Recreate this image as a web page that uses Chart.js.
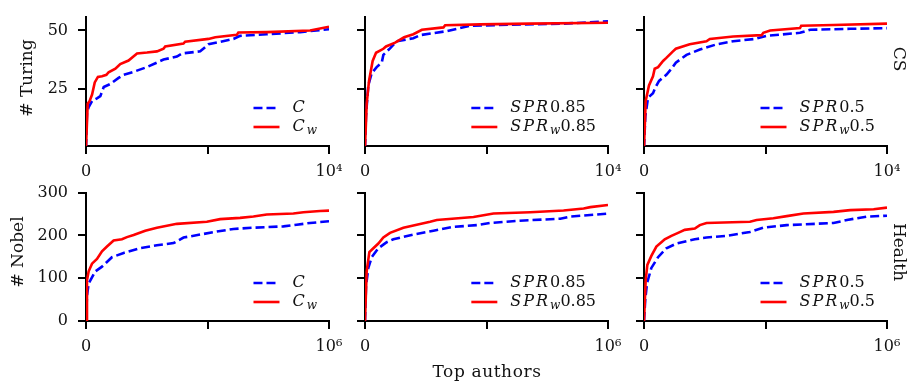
<!DOCTYPE html>
<html>
<head>
<meta charset="utf-8">
<script src="https://cdn.jsdelivr.net/npm/chart.js@4.4.1/dist/chart.umd.min.js"></script>
<style>
  body { margin: 0; background: #fff; }
  #wrap { position: relative; width: 908px; height: 387px; overflow: hidden; font-family: "DejaVu Serif", serif; color: #111; }
  canvas { position: absolute; }
  .lbl { position: absolute; font-size: 17px; white-space: nowrap; }
</style>
</head>
<body>
<div id="wrap">
  <canvas id="p1"></canvas><canvas id="p2"></canvas><canvas id="p3"></canvas>
  <canvas id="p4"></canvas><canvas id="p5"></canvas><canvas id="p6"></canvas>
  <div class="lbl" style="left:26px;top:78px;transform:translate(-50%,-50%) rotate(-90deg)"># Turing</div>
  <div class="lbl" style="left:17px;top:252px;transform:translate(-50%,-50%) rotate(-90deg)"># Nobel</div>
  <div class="lbl" style="left:900px;top:59px;transform:translate(-50%,-50%) rotate(90deg)">CS</div>
  <div class="lbl" style="left:900px;top:252px;transform:translate(-50%,-50%) rotate(90deg)">Health</div>
  <div class="lbl" style="left:487px;top:371px;letter-spacing:0.6px;transform:translate(-50%,-50%)">Top authors</div>
</div>
<script>
// tick values / labels
const topXTicks = [0, 5000, 10000];
const topXLabels = ['0', '', '10⁴'];
const botXTicks = [0, 500000, 1000000];
const botXLabels = ['0', '', '10⁶'];
const topYTicks = [25, 50];
const botYTicks = [0, 100, 200, 300];

// Turing / CS, C vs C_w
const turingCx = [0, 40, 110, 250, 450, 590, 730, 1000, 1340, 1550, 1960, 2510, 3190, 3740, 3950, 4700, 5040, 6070, 6340, 7440, 8810, 10000];
const turingCy = [0, 14.8, 17.4, 20, 21.1, 22, 25.9, 27.2, 29.8, 31.1, 32.4, 34.4, 37.6, 38.9, 40.2, 41.1, 44.1, 46.4, 47.7, 48.4, 49.3, 50.5];
const turingCwx = [0, 70, 150, 250, 360, 490, 660, 840, 930, 1210, 1410, 1750, 2100, 2510, 2920, 3190, 3260, 4010, 4080, 5040, 5320, 6210, 6270, 7440, 9220, 10000];
const turingCwy = [0, 18.8, 20, 22.7, 27.9, 30.2, 30.5, 31.1, 32.2, 33.7, 35.7, 37.2, 40.2, 40.6, 41.1, 42.2, 43.2, 44.4, 45.2, 46.4, 47.1, 48.2, 49.1, 49.3, 50, 51.6];

// Turing / CS, SPR 0.85
const turingS85x = [0, 40, 135, 275, 480, 690, 755, 1030, 1300, 1990, 2270, 3370, 4330, 5430, 8180, 10000];
const turingS85y = [0, 13.5, 26.6, 31.8, 34.4, 36.3, 39.6, 42.4, 45.4, 46.7, 48, 49.7, 52, 52.3, 52.9, 53.9];
const turingSw85x = [0, 70, 165, 315, 455, 755, 865, 1240, 1610, 1990, 2340, 3230, 3300, 4740, 6800, 10000];
const turingSw85y = [0, 18.8, 28.5, 37, 40.5, 42.2, 43.2, 44.8, 47.1, 48.4, 50.3, 51.3, 52.2, 52.6, 52.9, 53.3];

// Turing / CS, SPR 0.5
const turingS5x = [0, 55, 165, 370, 480, 620, 920, 1130, 1310, 1750, 2300, 2990, 3670, 4570, 5050, 6420, 6840, 8490, 10000];
const turingS5y = [0, 13.5, 21.3, 23.3, 25.9, 28.5, 31.1, 33.7, 36.3, 39.6, 41.9, 44.1, 45.4, 46.4, 47.7, 49, 50.3, 50.7, 51];
const turingSw5x = [0, 70, 205, 370, 440, 580, 785, 920, 1170, 1310, 1880, 2570, 2710, 3670, 4840, 4910, 5190, 6420, 6470, 7800, 10000];
const turingSw5y = [0, 20, 26.6, 30.5, 33.7, 34.4, 37, 38.3, 40.9, 42.2, 44.1, 45.4, 46.4, 47.4, 48, 49, 50, 51, 52, 52.3, 52.9];

// Nobel / Health, C vs C_w
const nobelCx = [0, 4100, 11000, 38400, 65800, 106800, 154800, 223300, 291800, 360300, 401400, 469900, 538400, 606800, 689000, 812300, 867100, 921900, 1000000];
const nobelCy = [0, 59, 88, 116, 127, 149, 159, 170, 177, 182, 195, 202, 209, 215, 218, 221, 225, 229, 233];
const nobelCwx = [0, 4100, 11000, 24700, 45200, 65800, 86300, 113700, 147900, 168500, 195900, 243800, 291800, 374000, 497300, 552100, 634200, 689000, 743800, 853400, 894500, 963000, 1000000];
const nobelCwy = [0, 95, 116, 134, 145, 163, 174, 188, 191, 196, 201, 211, 218, 227, 232, 238, 241, 244, 249, 251, 254, 257, 258];

// Nobel / Health, SPR 0.85
const nobelS85x = [0, 4100, 13700, 27500, 54900, 89300, 116800, 199200, 281600, 364000, 460200, 515100, 625000, 803600, 844800, 1000000];
const nobelS85y = [0, 81, 124, 149, 170, 184, 191, 202, 211, 220, 224, 229, 234, 239, 244, 251];
const nobelSw85x = [0, 6900, 17900, 34300, 54900, 75500, 103000, 158000, 212900, 267900, 295300, 446400, 528800, 679900, 817300, 899700, 927200, 1000000];
const nobelSw85y = [0, 116, 161, 170, 181, 195, 206, 218, 225, 232, 236, 243, 251, 254, 258, 263, 266, 271];

// Nobel / Health, SPR 0.5
const nobelS5x = [0, 5500, 12400, 30300, 57800, 92200, 133400, 209100, 257200, 339800, 436000, 491100, 587300, 779900, 834900, 917500, 1000000];
const nobelS5y = [0, 52, 88, 124, 149, 170, 181, 191, 195, 199, 208, 218, 224, 229, 236, 244, 246];
const nobelSw5x = [0, 6900, 13800, 30300, 50900, 71500, 85300, 112800, 140300, 167800, 209100, 229700, 257200, 436000, 463500, 532300, 587300, 656100, 779900, 848700, 945000, 1000000];
const nobelSw5y = [0, 95, 131, 152, 174, 184, 191, 199, 206, 213, 216, 224, 229, 232, 236, 240, 245, 251, 255, 259, 261, 265];

// layout of the plot areas
const colLeft = [86, 365, 644];
const plotW = 243;
const rowTop = [5, 181];
const plotH = [141, 140];
const ML = 60, MT = 8, MR = 25, MB = 40;

function pts(xs, ys) {
  return xs.map((x, i) => ({ x: x, y: ys[i] }));
}

// draws a label like "SPR_w0.85": letters italic, digits upright, _x subscript
function drawMath(ctx, label, x, y, paint) {
  let w = 0;
  for (let i = 0; i < label.length; i++) {
    let ch = label[i], sub = false;
    if (ch === '_') { sub = true; ch = label[++i]; }
    const italic = /[A-Za-z]/.test(ch);
    ctx.font = (italic ? 'italic ' : '') + (sub ? '12px' : '16px') + ' "DejaVu Serif"';
    if (paint) ctx.fillText(ch, x + w, y + (sub ? 4 : 0));
    w += ctx.measureText(ch).width + (italic && !sub ? 2 : 0);
  }
  return w;
}

const mathLegend = {
  id: 'mathLegend',
  afterDatasetsDraw(chart) {
    const ctx = chart.ctx, area = chart.chartArea;
    const sets = chart.data.datasets;
    ctx.save();
    ctx.textBaseline = 'middle';
    ctx.fillStyle = '#111';
    const widths = sets.map(ds => drawMath(ctx, ds.label, 0, 0, false));
    const tx = area.right - 12 - Math.max(...widths);
    sets.forEach((ds, i) => {
      const y = area.bottom - 38 + i * 19;
      ctx.strokeStyle = ds.borderColor;
      ctx.lineWidth = ds.borderWidth;
      ctx.setLineDash(ds.borderDash || []);
      ctx.beginPath();
      ctx.moveTo(tx - 39, y);
      ctx.lineTo(tx - 13, y);
      ctx.stroke();
      ctx.setLineDash([]);
      drawMath(ctx, ds.label, tx, y, true);
    });
    ctx.restore();
  }
};

function panel(id, col, row, blue, red, showY) {
  const cv = document.getElementById(id);
  cv.width = plotW + ML + MR;
  cv.height = plotH[row] + MT + MB;
  cv.style.left = (colLeft[col] - ML) + 'px';
  cv.style.top = (rowTop[row] - MT) + 'px';

  const xTicks = row === 0 ? topXTicks : botXTicks;
  const xLabels = row === 0 ? topXLabels : botXLabels;
  const yTicks = row === 0 ? topYTicks : botYTicks;
  const axisFont = { family: 'DejaVu Serif', size: 16 };
  const grid = { drawOnChartArea: false, color: '#000', lineWidth: 2, tickLength: 8 };
  const border = { color: '#000', width: 2 };

  new Chart(cv, {
    type: 'line',
    data: {
      datasets: [
        { label: blue.label, data: pts(blue.x, blue.y), borderColor: '#0000ff', borderWidth: 2.6, borderDash: [9, 4], order: 1 },
        { label: red.label, data: pts(red.x, red.y), borderColor: '#ff0000', borderWidth: 2.6, order: 0 }
      ]
    },
    options: {
      responsive: false,
      animation: false,
      devicePixelRatio: 1,
      layout: { padding: { top: MT, right: MR, left: 0, bottom: 0 } },
      elements: { point: { radius: 0 }, line: { tension: 0 } },
      plugins: { legend: { display: false }, tooltip: { enabled: false } },
      scales: {
        x: {
          type: 'linear',
          min: 0,
          max: xTicks[2],
          grid: grid,
          border: border,
          afterBuildTicks: s => { s.ticks = xTicks.map(v => ({ value: v })); },
          afterFit: s => { s.height = MB; },
          ticks: { autoSkip: false, maxRotation: 0, padding: 8, color: '#111', font: axisFont,
                   callback: (v, i) => xLabels[i] }
        },
        y: {
          min: row === 0 ? 0.8 : 0,
          max: row === 0 ? 55.9 : 300,
          grid: grid,
          border: border,
          afterBuildTicks: s => { s.ticks = yTicks.map(v => ({ value: v })); },
          afterFit: s => { s.width = ML; },
          ticks: { padding: 10, color: '#111', font: axisFont,
                   callback: v => showY ? String(v) : '' }
        }
      }
    },
    plugins: [mathLegend]
  });
}

panel('p1', 0, 0, { label: 'C', x: turingCx, y: turingCy }, { label: 'C_w', x: turingCwx, y: turingCwy }, true);
panel('p2', 1, 0, { label: 'SPR0.85', x: turingS85x, y: turingS85y }, { label: 'SPR_w0.85', x: turingSw85x, y: turingSw85y }, false);
panel('p3', 2, 0, { label: 'SPR0.5', x: turingS5x, y: turingS5y }, { label: 'SPR_w0.5', x: turingSw5x, y: turingSw5y }, false);
panel('p4', 0, 1, { label: 'C', x: nobelCx, y: nobelCy }, { label: 'C_w', x: nobelCwx, y: nobelCwy }, true);
panel('p5', 1, 1, { label: 'SPR0.85', x: nobelS85x, y: nobelS85y }, { label: 'SPR_w0.85', x: nobelSw85x, y: nobelSw85y }, false);
panel('p6', 2, 1, { label: 'SPR0.5', x: nobelS5x, y: nobelS5y }, { label: 'SPR_w0.5', x: nobelSw5x, y: nobelSw5y }, false);
</script>
</body>
</html>
